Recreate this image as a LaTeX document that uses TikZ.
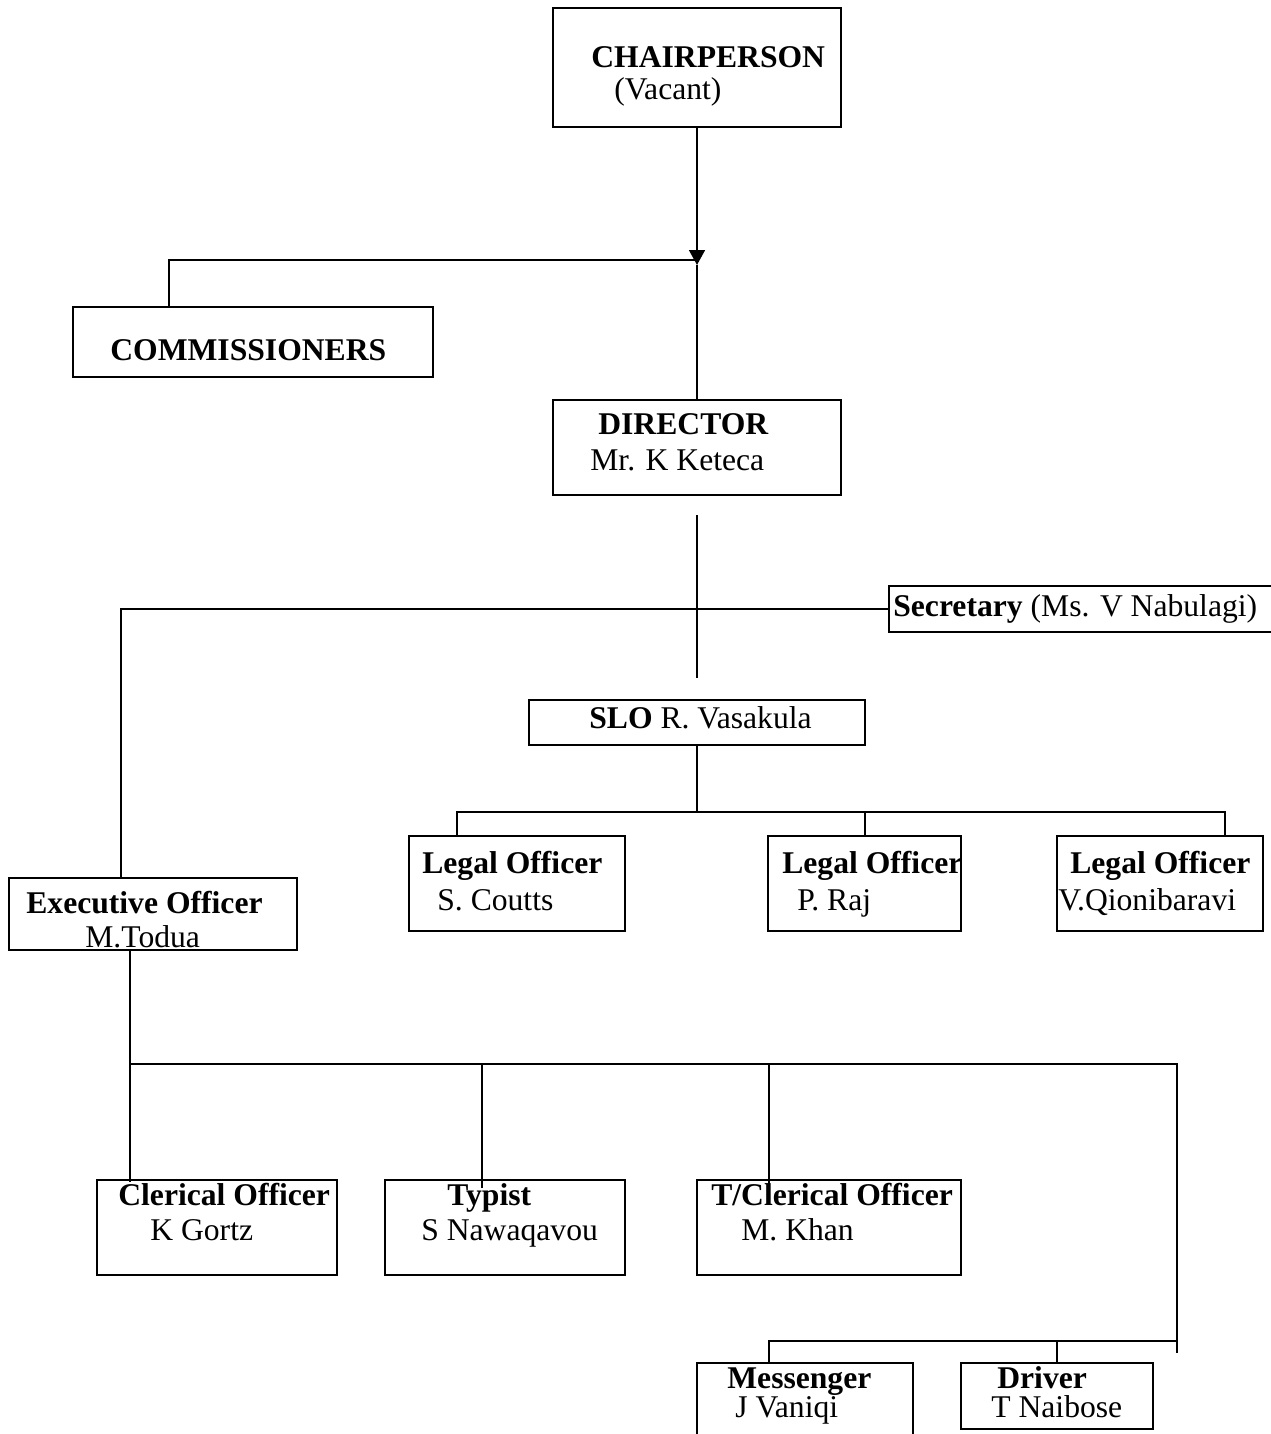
\documentclass[tikz,border=0pt]{standalone}
\usepackage{fontspec}
\setmainfont{Liberation Serif}
\usetikzlibrary{arrows.meta,fit}

\tikzset{
  box/.style={draw, line width=1.1pt, inner sep=0pt},
  lbl/.style={anchor=base west, inner sep=0pt, font=\fontsize{18}{21}\selectfont},
  link/.style={line width=1.1pt},
}

\begin{document}
\begin{tikzpicture}[x=0.02cm, y=-0.02cm]
    \useasboundingbox (0,0) rectangle (1271,1434);
    \clip (0,0) rectangle (1271,1434);

    \node[box, fit={(553,8) (841,127)}] (chair) {};
    \node[box, fit={(73,307) (433,377)}] (comm) {};
    \node[box, fit={(553,400) (841,495)}] (director) {};
    \node[box, fit={(889,586) (1300,632)}] (secr) {};
    \node[box, fit={(529,700) (865,745)}] (slo) {};
    \node[box, fit={(409,836) (625,931)}] (legalA) {};
    \node[box, fit={(768,836) (961,931)}] (legalB) {};
    \node[box, fit={(1057,836) (1263,931)}] (legalC) {};
    \node[box, fit={(9,878) (297,950)}] (exec) {};
    \node[box, fit={(97,1180) (337,1275)}] (cler) {};
    \node[box, fit={(385,1180) (625,1275)}] (typist) {};
    \node[box, fit={(697,1180) (961,1275)}] (tcler) {};
    \node[box, fit={(697,1363) (913,1460)}] (mess) {};
    \node[box, fit={(961,1363) (1153,1429)}] (driver) {};

    \node[lbl] (chairT) at (591,67) {\textbf{CHAIRPERSON}};
    \node[lbl] (chairN) at (614,99) {(Vacant)};
    \node[lbl] (commT) at (110,360) {\textbf{COMMISSIONERS}};
    \node[lbl] (dirT) at (598,434) {\textbf{DIRECTOR}};
    \node[lbl] (dirN) at (590,470) {Mr. K Keteca};
    \node[lbl] (secrT) at (893,616) {\textbf{Secretary} (Ms. V Nabulagi)};
    \node[lbl] (sloT) at (589,728) {\textbf{SLO} R. Vasakula};
    \node[lbl] (legalAT) at (422,873) {\textbf{Legal Officer}};
    \node[lbl] (legalAN) at (437,910) {S. Coutts};
    \node[lbl] (legalBT) at (782,873) {\textbf{Legal Officer}};
    \node[lbl] (legalBN) at (797,910) {P. Raj};
    \node[lbl] (legalCT) at (1070,873) {\textbf{Legal Officer}};
    \node[lbl] (legalCN) at (1058,910) {V.Qionibaravi};
    \node[lbl] (execT) at (26,913) {\textbf{Executive Officer}};
    \node[lbl] (execN) at (85,947) {M.Todua};
    \node[lbl] (clerT) at (118,1205) {\textbf{Clerical Officer}};
    \node[lbl] (clerN) at (150,1240) {K Gortz};
    \node[lbl] (typistT) at (447,1205) {\textbf{Typist}};
    \node[lbl] (typistN) at (421,1240) {S Nawaqavou};
    \node[lbl] (tclerT) at (711,1205) {\textbf{T/Clerical Officer}};
    \node[lbl] (tclerN) at (741,1240) {M. Khan};
    \node[lbl] (messT) at (727,1388) {\textbf{Messenger}};
    \node[lbl] (messN) at (735,1417) {J Vaniqi};
    \node[lbl] (driverT) at (997,1388) {\textbf{Driver}};
    \node[lbl] (driverN) at (991,1417) {T Naibose};

    \coordinate (tip) at (697,265);
    \coordinate (split) at (697,260);
    \coordinate (commTop) at (169,307);
    \coordinate (dirGap) at (697,515);
    \coordinate (sloGap) at (697,678);
    \coordinate (execTop) at (121,878);
    \coordinate (lbar) at (697,812);
    \coordinate (legalATop) at (457,836);
    \coordinate (legalBTop) at (865,836);
    \coordinate (legalCTop) at (1225,836);
    \coordinate (execBot) at (130,950);
    \coordinate (clerTop) at (130,1182);
    \coordinate (sbar) at (130,1064);
    \coordinate (sbarEnd) at (1177,1064);
    \coordinate (sbarLow) at (1177,1353);
    \coordinate (typistTop) at (482,1188);
    \coordinate (tclerTop) at (769,1188);
    \coordinate (mbar) at (1177,1341);
    \coordinate (messTop) at (769,1363);
    \coordinate (driverTop) at (1057,1363);

    \draw[link, -{Triangle[length=8.5pt, width=9pt]}] (chair.south) -- (tip);
    \draw[link] (tip) -- (director.north);
    \draw[link] (split) -| (commTop);
    \draw[link] (dirGap) -- (sloGap);
    \draw[link] (secr.west) -| (execTop);
    \draw[link] (slo.south) -- (lbar);
    \draw[link] (legalATop) |- (lbar) -| (legalCTop);
    \draw[link] (legalBTop) -- (legalBTop |- lbar);
    \draw[link] (execBot) -- (clerTop);
    \draw[link] (sbar) -- (sbarEnd) -- (sbarLow);
    \draw[link] (typistTop) -- (typistTop |- sbar);
    \draw[link] (tclerTop) -- (tclerTop |- sbar);
    \draw[link] (mbar) -| (messTop);
    \draw[link] (driverTop) -- (driverTop |- mbar);
  \end{tikzpicture}
\end{document}
